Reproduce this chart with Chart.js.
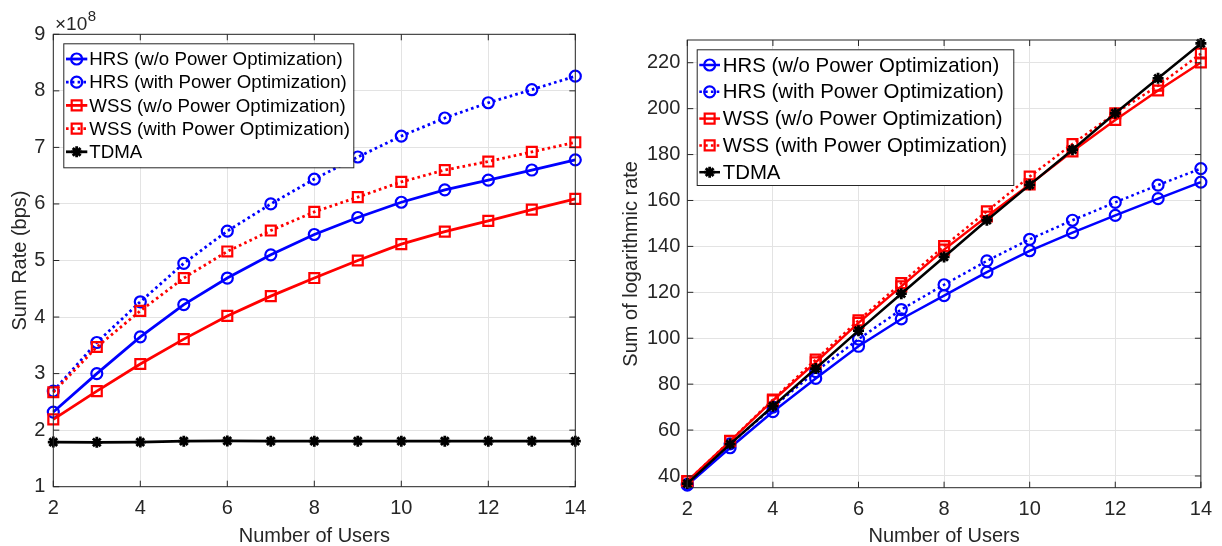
<!DOCTYPE html>
<html>
<head>
<meta charset="utf-8">
<script src="https://cdn.jsdelivr.net/npm/chart.js@4.4.1/dist/chart.umd.min.js"></script>
<style>
  body { margin: 0; background: #fff; }
  #left { position: absolute; left: 0; top: 0; }
  #right { position: absolute; left: 610px; top: 0; }
</style>
</head>
<body>
<canvas id="left" width="610" height="546"></canvas>
<canvas id="right" width="612" height="546"></canvas>
<script>
// x axis: number of users
const users = [2, 3, 4, 5, 6, 7, 8, 9, 10, 11, 12, 13, 14];
const xTicks = [2, 4, 6, 8, 10, 12, 14];

// left panel: sum rate, in units of 1e8 bps
const rateHrsNoPO = [2.32, 3.0, 3.65, 4.22, 4.69, 5.1, 5.46, 5.76, 6.03, 6.25, 6.42, 6.6, 6.78];
const rateHrsPO = [2.69, 3.55, 4.27, 4.95, 5.52, 6.0, 6.44, 6.83, 7.2, 7.52, 7.79, 8.02, 8.26];
const rateWssNoPO = [2.19, 2.69, 3.17, 3.61, 4.02, 4.37, 4.69, 5.0, 5.29, 5.51, 5.7, 5.9, 6.09];
const rateWssPO = [2.67, 3.47, 4.11, 4.69, 5.16, 5.53, 5.86, 6.12, 6.39, 6.6, 6.75, 6.92, 7.09];
const rateTdma = [1.79, 1.785, 1.79, 1.805, 1.81, 1.805, 1.805, 1.805, 1.805, 1.805, 1.805, 1.805, 1.805];
const leftYTicks = [1, 2, 3, 4, 5, 6, 7, 8, 9];

// right panel: sum of logarithmic rate
const logHrsNoPO = [36, 52.3, 68, 82.5, 96.5, 108.4, 118.6, 128.8, 138.1, 146, 153.5, 160.8, 168];
const logHrsPO = [36.4, 54, 70, 85.5, 99.6, 112.5, 123.3, 133.7, 143.1, 151.4, 159.2, 166.7, 173.9];
const logWssNoPO = [37.8, 55.2, 72.9, 89.5, 106.7, 122.6, 138.6, 153, 167, 181.4, 195.1, 207.9, 220.1];
const logWssPO = [37.7, 55.3, 73.3, 90.7, 107.8, 124, 140.1, 155.3, 170.4, 184.6, 198, 210, 224];
const logTdma = [36.7, 53.9, 70.4, 86.8, 103.3, 119.4, 135.4, 151.4, 166.8, 182.1, 198, 213.2, 228.4];
const rightYTicks = [40, 60, 80, 100, 120, 140, 160, 180, 200, 220];

const labels = [
  'HRS (w/o Power Optimization)',
  'HRS (with Power Optimization)',
  'WSS (w/o Power Optimization)',
  'WSS (with Power Optimization)',
  'TDMA'
];

const FONT = "'Liberation Sans', Arial, Helvetica, sans-serif";
const AXIS = '#262626';
const GRID = '#e3e3e3';

function makeDatasets(series, lw) {
  const styles = [
    { color: '#0000ff', dash: [], pt: 'circle', r: 5.5 },
    { color: '#0000ff', dash: [2.6, 3.2], pt: 'circle', r: 5.5 },
    { color: '#ff0000', dash: [], pt: 'rect', r: 7 },
    { color: '#ff0000', dash: [2.6, 3.2], pt: 'rect', r: 7 },
    { color: '#000000', dash: [], pt: 'star', r: 5.5 }
  ];
  return series.map((ys, i) => ({
    label: labels[i],
    data: users.map((u, k) => ({ x: u, y: ys[k] })),
    borderColor: styles[i].color,
    backgroundColor: 'rgba(0,0,0,0)',
    borderWidth: lw,
    borderDash: styles[i].dash,
    pointStyle: styles[i].pt,
    pointRadius: styles[i].r,
    pointBorderWidth: i === 4 ? 2.8 : 2.2,
    pointBorderColor: styles[i].color,
    pointBackgroundColor: 'rgba(0,0,0,0)',
    tension: 0,
    clip: false,
    order: 5 - i
  }));
}

// axes box with inward ticks, MATLAB style, plus the legend inside the axes
const boxFrame = {
  id: 'boxFrame',
  afterDatasetsDraw(chart) {
    const { ctx, chartArea: a, scales } = chart;
    ctx.save();
    ctx.strokeStyle = AXIS;
    ctx.lineWidth = 1;
    ctx.strokeRect(a.left, a.top, a.right - a.left, a.bottom - a.top);
    ctx.beginPath();
    scales.x.ticks.forEach(t => {
      const px = scales.x.getPixelForValue(t.value);
      ctx.moveTo(px, a.bottom); ctx.lineTo(px, a.bottom - 6);
      ctx.moveTo(px, a.top); ctx.lineTo(px, a.top + 6);
    });
    scales.y.ticks.forEach(t => {
      const py = scales.y.getPixelForValue(t.value);
      ctx.moveTo(a.left, py); ctx.lineTo(a.left + 6, py);
      ctx.moveTo(a.right, py); ctx.lineTo(a.right - 6, py);
    });
    ctx.stroke();
    const ex = chart.options.plugins.boxFrame.exponent;
    if (ex) {
      ctx.fillStyle = AXIS;
      ctx.textBaseline = 'alphabetic';
      ctx.font = '19px ' + FONT;
      ctx.fillText('\u00d710', 55, 29.5);
      const w = ctx.measureText('\u00d710').width;
      ctx.font = '15px ' + FONT;
      ctx.fillText(ex, 55 + w + 0.5, 21);
    }
    ctx.restore();
  },
  afterDraw(chart) {
    const o = chart.options.plugins.boxFrame.legend;
    const { ctx } = chart;
    ctx.save();
    ctx.fillStyle = '#ffffff';
    ctx.fillRect(o.x, o.y, o.w, o.h);
    ctx.strokeStyle = AXIS;
    ctx.lineWidth = 1;
    ctx.strokeRect(o.x + 0.5, o.y + 0.5, o.w, o.h);
    ctx.font = o.font + 'px ' + FONT;
    ctx.textBaseline = 'middle';
    chart.data.datasets.forEach((ds, i) => {
      const cy = o.y + o.first + i * o.row;
      ctx.strokeStyle = ds.borderColor;
      ctx.lineWidth = ds.borderWidth;
      ctx.setLineDash(ds.borderDash);
      ctx.beginPath();
      ctx.moveTo(o.x + o.l0, cy);
      ctx.lineTo(o.x + o.l0 + o.len, cy);
      ctx.stroke();
      ctx.setLineDash([]);
      ctx.lineWidth = ds.pointBorderWidth;
      ctx.fillStyle = 'rgba(0,0,0,0)';
      Chart.helpers.drawPoint(ctx, {
        pointStyle: ds.pointStyle, radius: ds.pointRadius, rotation: 0, borderWidth: ds.pointBorderWidth
      }, o.x + o.l0 + o.len / 2, cy);
      ctx.fillStyle = '#000000';
      ctx.fillText(ds.label, o.x + o.tx, cy + 1);
    });
    ctx.restore();
  }
};

function makeChart(id, series, cfg) {
  return new Chart(document.getElementById(id), {
    type: 'line',
    data: { datasets: makeDatasets(series, cfg.lw) },
    options: {
      responsive: false,
      animation: false,
      layout: { padding: cfg.padding },
      plugins: {
        legend: { display: false },
        tooltip: { enabled: false },
        boxFrame: { legend: cfg.legend, exponent: cfg.exponent }
      },
      scales: {
        x: {
          type: 'linear', min: 2, max: 14,
          afterBuildTicks: s => { s.ticks = xTicks.map(v => ({ value: v })); },
          afterFit: s => { s.height = cfg.xh; },
          ticks: { font: { family: FONT, size: cfg.fs }, color: AXIS, padding: 10, maxRotation: 0 },
          grid: { color: GRID, drawTicks: false },
          border: { display: false },
          title: { display: true, text: 'Number of Users', color: AXIS,
                   font: { family: FONT, size: cfg.fs, lineHeight: 1 }, padding: { top: 1, bottom: 0 } }
        },
        y: {
          min: cfg.ymin, max: cfg.ymax,
          afterBuildTicks: s => { s.ticks = cfg.yTicks.map(v => ({ value: v })); },
          afterFit: s => { s.width = cfg.yw; },
          ticks: { font: { family: FONT, size: cfg.fs }, color: AXIS, padding: cfg.ypad },
          grid: { color: GRID, drawTicks: false },
          border: { display: false },
          title: { display: true, text: cfg.ytitle, color: AXIS,
                   font: { family: FONT, size: cfg.fs, lineHeight: 1 }, padding: { top: cfg.ytp, bottom: 0 } }
        }
      }
    },
    plugins: [boxFrame]
  });
}

makeChart('left', [rateHrsNoPO, rateHrsPO, rateWssNoPO, rateWssPO, rateTdma], {
  lw: 2.8, fs: 20, ymin: 1, ymax: 9, yTicks: leftYTicks,
  ytitle: 'Sum Rate (bps)', exponent: '8', ypad: 8, ytp: 10,
  padding: { left: 0, top: 34.3, right: 34.7, bottom: 0 }, yw: 53.3, xh: 59.3,
  legend: { x: 63.3, y: 43.3, w: 290, h: 124, first: 15.7, row: 23.2, l0: 2.7, len: 21.3, tx: 26, font: 18.7 }
});

makeChart('right', [logHrsNoPO, logHrsPO, logWssNoPO, logWssPO, logTdma], {
  lw: 2.5, fs: 20, ymin: 34.9, ymax: 229.9, yTicks: rightYTicks,
  ytitle: 'Sum of logarithmic rate', exponent: null, ypad: 7, ytp: 11,
  padding: { left: 0, top: 40, right: 18.3, bottom: 0 }, yw: 77.3, xh: 58.3,
  legend: { x: 86.7, y: 49.3, w: 316.6, h: 135.7, first: 15.7, row: 26.8, l0: 2.6, len: 20.7, tx: 26, font: 20.4 }
});
</script>
</body>
</html>
